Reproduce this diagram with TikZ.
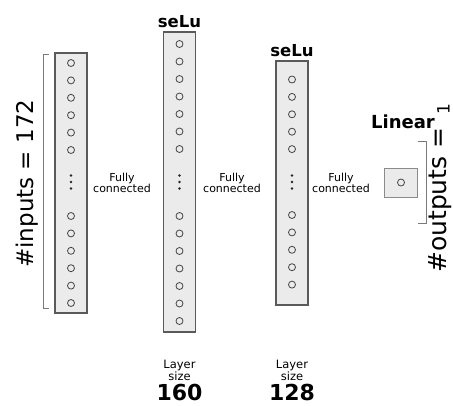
\documentclass[tikz,border=0pt]{standalone}
\usepackage{fontspec}
\setmainfont{DejaVu Sans}
\definecolor{boxfill}{HTML}{EBEBEB}
\definecolor{boxline}{HTML}{5A5A5A}
\definecolor{unitline}{HTML}{444444}
\definecolor{bracketline}{HTML}{7A7A7A}
\begin{document}
\begin{tikzpicture}[x=1pt,y=-1pt,
  layerbox/.style={draw=boxline, fill=boxfill, line width=1.1pt, inner sep=0pt, minimum width=32pt},
  unit/.style={circle, draw=unitline, line width=0.8pt, minimum size=7pt, inner sep=0pt},
  vdot/.style={circle, fill=black!85, minimum size=2.6pt, inner sep=0pt},
  fclabel/.style={font=\fontsize{11}{10}\selectfont, align=center, inner sep=0pt},
  acttitle/.style={font=\fontsize{16.5}{18}\selectfont\bfseries, inner sep=0pt, anchor=base},
  sizelabel/.style={font=\fontsize{11.5}{9.5}\selectfont, align=center, inner sep=0pt},
  sizevalue/.style={font=\fontsize{22}{24}\selectfont\bfseries, inner sep=0pt, anchor=base},
  countlabel/.style={rotate=90, anchor=base west, inner sep=0pt},
  bracket/.style={draw=bracketline, line width=0.9pt}
]
\useasboundingbox (0,0) rectangle (453,405);

% input layer: 172 units
\node[layerbox, minimum height=260pt] (inbox) at (71,183) {};
\foreach \i in {0,...,5} {
  \node[unit] (in\i) at (71,{63+17.4*\i}) {};
  \node[unit] (inb\i) at (71,{216+17.4*\i}) {};
}
\foreach \d in {-6.5,0,6.5} \node[vdot] at (71,{182+\d}) {};

% first hidden layer: 160 units
\node[layerbox, minimum height=300pt] (hAbox) at (179.5,182) {};
\foreach \i in {0,...,6} {
  \node[unit] (hA\i) at (179.5,{44+17.5*\i}) {};
  \node[unit] (hAb\i) at (179.5,{216+17.5*\i}) {};
}
\foreach \d in {-6.5,0,6.5} \node[vdot] at (179.5,{182+\d}) {};

% second hidden layer: 128 units
\node[layerbox, minimum height=244pt] (hBbox) at (292,183) {};
\foreach \i in {0,...,4} {
  \node[unit] (hB\i) at (292,{79.5+17.4*\i}) {};
  \node[unit] (hBb\i) at (292,{215+17.4*\i}) {};
}
\foreach \d in {-6.5,0,6.5} \node[vdot] at (292,{182+\d}) {};

% output layer: 1 unit
\node[layerbox, minimum width=33pt, minimum height=29pt, line width=0.7pt, draw=boxline!70] (outbox) at (401,182.5) {};
\node[unit] (out0) at (401,182.5) {};

% activation titles
\node[acttitle] (actA) at (179.5,27) {seLu};
\node[acttitle] (actB) at (292,56) {seLu};
\node[acttitle, font=\fontsize{18}{20}\selectfont\bfseries] (actC) at (403,128) {Linear};

% connection labels
\node[fclabel] (fcA) at (122,183) {Fully\\connected};
\node[fclabel] (fcB) at (232,183) {Fully\\connected};
\node[fclabel] (fcC) at (341,183) {Fully\\connected};

% layer sizes
\node[sizelabel] (szA) at (179.5,370) {Layer\\size};
\node[sizelabel] (szB) at (292,370) {Layer\\size};
\node[sizevalue] (nA) at (179.5,400.5) {160};
\node[sizevalue] (nB) at (292,400.5) {128};

% input bracket and count
\coordinate (ibt) at (49,54);
\coordinate (ibb) at (49,308);
\draw[bracket] (ibt) -- (43,54) -- (43,308) -- (ibb);
\node[countlabel, font=\fontsize{23}{25}\selectfont] (ninputs) at (33,268) {\#inputs = 172};

% output bracket and count
\coordinate (obt) at (418,141);
\coordinate (obb) at (418,223);
\draw[bracket] (obt) -- (426,141) -- (426,223) -- (obb);
\node[countlabel, font=\fontsize{25}{27}\selectfont] (noutputs) at (446.5,273) {\#outputs =};
\node[countlabel, font=\fontsize{17}{19}\selectfont] (noutone) at (449.5,115) {1};
\end{tikzpicture}
\end{document}
